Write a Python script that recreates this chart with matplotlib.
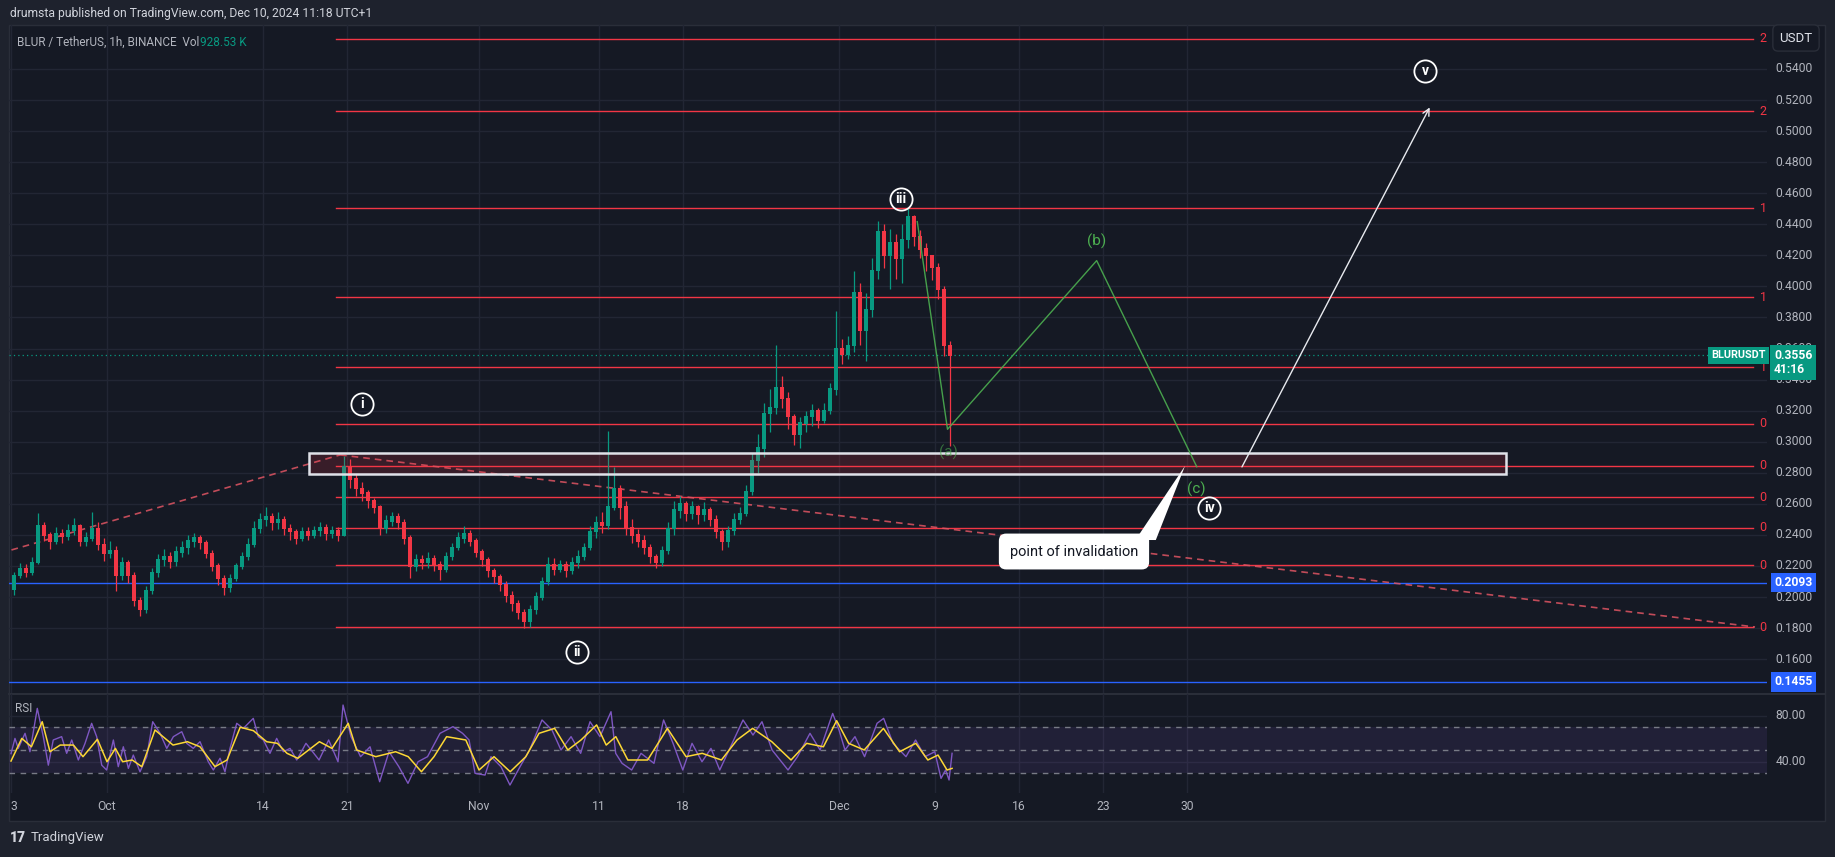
import matplotlib
matplotlib.use('Agg')
import matplotlib.pyplot as plt
import matplotlib.transforms as mtrans
from matplotlib.patches import Rectangle, Polygon
from matplotlib.lines import Line2D

plt.rcParams['font.family'] = ['Roboto', 'DejaVu Sans']

# ---------------- data (days counted from Oct 1, 2024) ----------------
first_open = 0.205
candle_start_day = -8.0          # Sep 23, 12h candles
closes = [0.214, 0.218, 0.216, 0.222, 0.246, 0.240, 0.236, 0.241, 0.239, 0.243,
          0.246, 0.236, 0.238, 0.244, 0.234, 0.228, 0.230, 0.214, 0.222, 0.214,
          0.198, 0.192, 0.204, 0.216, 0.224, 0.226, 0.223, 0.229, 0.232, 0.236,
          0.238, 0.235, 0.228, 0.220, 0.212, 0.206, 0.212, 0.220, 0.226, 0.234,
          0.244, 0.250, 0.252, 0.248, 0.250, 0.244, 0.242, 0.238, 0.242, 0.240,
          0.243, 0.245, 0.241, 0.243, 0.240, 0.284, 0.276, 0.270, 0.267, 0.262,
          0.258, 0.244, 0.249, 0.252, 0.248, 0.238, 0.220, 0.224, 0.222, 0.225,
          0.221, 0.218, 0.226, 0.232, 0.238, 0.241, 0.236, 0.229, 0.224, 0.217,
          0.213, 0.208, 0.201, 0.196, 0.190, 0.184, 0.192, 0.200, 0.210, 0.221,
          0.218, 0.221, 0.217, 0.222, 0.226, 0.232, 0.242, 0.248, 0.246, 0.258,
          0.270, 0.258, 0.245, 0.240, 0.236, 0.232, 0.226, 0.222, 0.230, 0.244,
          0.256, 0.260, 0.254, 0.258, 0.253, 0.256, 0.250, 0.242, 0.236, 0.243,
          0.250, 0.254, 0.268, 0.288, 0.296, 0.318, 0.322, 0.335, 0.328, 0.316,
          0.305, 0.312, 0.316, 0.320, 0.314, 0.320, 0.334, 0.360, 0.356, 0.362,
          0.396, 0.372, 0.385, 0.410, 0.435, 0.420, 0.428, 0.418, 0.430, 0.445,
          0.432, 0.424, 0.420, 0.412, 0.398, 0.362, 0.3556]
highs = [0.216, 0.222, 0.221, 0.226, 0.254, 0.248, 0.242, 0.245, 0.244, 0.247,
         0.251, 0.247, 0.242, 0.255, 0.248, 0.238, 0.236, 0.233, 0.226, 0.224,
         0.216, 0.200, 0.207, 0.219, 0.228, 0.231, 0.229, 0.233, 0.236, 0.240,
         0.241, 0.240, 0.237, 0.230, 0.222, 0.214, 0.215, 0.222, 0.229, 0.238,
         0.249, 0.254, 0.258, 0.254, 0.255, 0.252, 0.247, 0.244, 0.245, 0.245,
         0.246, 0.248, 0.247, 0.246, 0.245, 0.291, 0.289, 0.279, 0.274, 0.269,
         0.264, 0.259, 0.253, 0.255, 0.254, 0.250, 0.240, 0.228, 0.227, 0.229,
         0.227, 0.223, 0.229, 0.235, 0.242, 0.246, 0.243, 0.238, 0.231, 0.226,
         0.219, 0.215, 0.210, 0.204, 0.198, 0.192, 0.195, 0.203, 0.213, 0.226,
         0.225, 0.224, 0.223, 0.226, 0.230, 0.235, 0.246, 0.252, 0.255, 0.307,
         0.284, 0.272, 0.262, 0.250, 0.244, 0.240, 0.234, 0.228, 0.233, 0.248,
         0.262, 0.265, 0.262, 0.262, 0.259, 0.261, 0.258, 0.253, 0.244, 0.246,
         0.254, 0.258, 0.272, 0.293, 0.305, 0.325, 0.334, 0.362, 0.342, 0.332,
         0.318, 0.316, 0.320, 0.324, 0.322, 0.325, 0.338, 0.384, 0.366, 0.368,
         0.410, 0.402, 0.396, 0.418, 0.442, 0.440, 0.437, 0.434, 0.440, 0.4503,
         0.446, 0.436, 0.428, 0.420, 0.415, 0.400, 0.365]
lows = [0.201, 0.212, 0.213, 0.214, 0.221, 0.236, 0.231, 0.234, 0.235, 0.237,
        0.240, 0.233, 0.233, 0.236, 0.230, 0.223, 0.225, 0.204, 0.211, 0.209,
        0.194, 0.188, 0.190, 0.202, 0.213, 0.220, 0.219, 0.220, 0.226, 0.228,
        0.232, 0.231, 0.225, 0.217, 0.208, 0.201, 0.203, 0.210, 0.218, 0.224,
        0.232, 0.241, 0.246, 0.243, 0.244, 0.240, 0.237, 0.234, 0.236, 0.237,
        0.238, 0.239, 0.237, 0.238, 0.236, 0.239, 0.270, 0.265, 0.262, 0.257,
        0.254, 0.240, 0.241, 0.246, 0.244, 0.234, 0.212, 0.217, 0.218, 0.219,
        0.217, 0.211, 0.216, 0.224, 0.230, 0.235, 0.233, 0.226, 0.220, 0.213,
        0.209, 0.204, 0.197, 0.191, 0.186, 0.180, 0.181, 0.189, 0.198, 0.208,
        0.214, 0.216, 0.213, 0.215, 0.219, 0.224, 0.230, 0.238, 0.241, 0.244,
        0.256, 0.250, 0.240, 0.235, 0.232, 0.228, 0.222, 0.219, 0.220, 0.228,
        0.240, 0.251, 0.249, 0.250, 0.247, 0.249, 0.246, 0.238, 0.230, 0.232,
        0.240, 0.247, 0.252, 0.266, 0.280, 0.290, 0.306, 0.318, 0.322, 0.308,
        0.298, 0.296, 0.306, 0.310, 0.309, 0.312, 0.318, 0.330, 0.350, 0.353,
        0.358, 0.362, 0.352, 0.380, 0.405, 0.412, 0.398, 0.405, 0.402, 0.425,
        0.426, 0.418, 0.410, 0.404, 0.392, 0.355, 0.297]

fib_levels = [0.5596, 0.5128, 0.4503, 0.3930, 0.3478, 0.3117, 0.2845, 0.2641, 0.2446, 0.2204, 0.1805]
fib_labels = ['2', '2', '1', '1', '1', '0', '0', '0', '0', '0', '0']
fib_days = [19.1, 137.2]

blue_levels = [0.2093, 0.1455]
last_price = 0.3556
countdown = '41:16'

zone_days = [16.83, 116.6]
zone_prices = [0.2794, 0.2927]

trend_up_days = [-7.96, 19.42]
trend_up_prices = [0.2303, 0.2915]
trend_dn_days = [19.42, 137.33]
trend_dn_prices = [0.2915, 0.1807]

abc_days = [67.52, 70.04, 82.47, 90.81]
abc_prices = [0.4417, 0.308, 0.4166, 0.2839]
abc_labels = ['(a)', '(b)', '(c)']
abc_label_days = [70.1, 82.47, 90.81]
abc_label_prices = [0.2929, 0.4292, 0.2694]

wave_labels = ['i', 'ii', 'iii', 'iv', 'v']
wave_days = [21.22, 39.17, 66.17, 91.86, 109.83]
wave_prices = [0.3245, 0.1646, 0.4563, 0.2575, 0.539]

arrow_days = [94.47, 110.33]
arrow_prices = [0.2822, 0.5168]

callout_text = 'point of invalidation'
callout_day, callout_price = 80.58, 0.2293
pointer_days = [85.7, 87.4, 89.83]
pointer_prices = [0.2367, 0.2367, 0.2844]

price_ticks = [0.16, 0.18, 0.20, 0.22, 0.24, 0.26, 0.28, 0.30, 0.32, 0.34,
               0.36, 0.38, 0.40, 0.42, 0.44, 0.46, 0.48, 0.50, 0.52, 0.54]
date_tick_days = [-8, 0, 13, 20, 31, 41, 48, 61, 69, 76, 83, 90]
date_tick_labels = ['3', 'Oct', '14', '21', 'Nov', '11', '18', 'Dec', '9', '16', '23', '30']

rsi_days = [-8.0, -7.67, -7.39, -6.83, -6.42, -5.81, -5.31, -4.89, -4.48, -3.78,
            -3.36, -2.94, -2.39, -1.83, -1.28, -0.86, -0.44, -0.03, 0.53, 0.94,
            1.36, 1.78, 2.19, 2.75, 3.31, 3.81, 4.42, 4.98, 5.53, 6.23,
            6.64, 7.19, 7.75, 8.44, 8.86, 9.42, 9.83, 10.25, 10.81, 11.36,
            11.78, 12.19, 12.61, 13.03, 13.58, 14.14, 14.69, 15.25, 15.81,
            16.58, 17.67, 18.47, 19.25, 19.67, 20.33, 21.13, 21.92, 22.72, 23.5,
            24.32, 25.08, 25.92, 26.71, 27.75, 28.83, 29.63, 30.17, 30.67, 31.5,
            32.0, 32.83, 33.58, 34.42, 35.21, 36.25, 37.08, 37.83, 38.67, 39.47,
            40.25, 41.08, 42.0, 42.39, 42.92, 43.72, 44.5, 45.58, 46.38, 47.17,
            47.98, 48.75, 49.58, 50.33, 51.06, 51.96, 53.0, 53.83, 54.58, 55.42,
            56.75, 57.54, 58.58, 59.42, 60.47, 61.0, 61.5, 62.33, 63.13, 64.17,
            64.72, 65.5, 66.58, 67.38, 68.17, 68.98, 69.5, 69.88, 70.17, 70.42]
rsi_vals = [47, 60.3, 51.6, 64.7, 48.7, 86.4, 61.8, 37, 58.9, 61.8,
            47.3, 58.9, 41.5, 56, 73.4, 61.8, 37, 32.8, 58.9, 35.7,
            53, 34.2, 45.8, 31.3, 44.4, 74.8, 64.7, 51.6, 61.8, 66.1,
            56, 51.6, 57.4, 40, 32.8, 43, 31.3, 51.6, 73.4, 69,
            73.4, 77.7, 61.8, 58.9, 47.3, 60.3, 48.7, 51.6, 41.5,
            56, 41.5, 58.9, 40, 89.3, 61.8, 44.4, 53, 22.6, 48.7,
            35.7, 21.2, 40, 44.4, 64.7, 70.5, 64.7, 58.9, 29.9, 28.4,
            44.4, 35.7, 19.7, 35.7, 50.2, 76.3, 67.6, 50.2, 61.8, 47.3,
            74.8, 61.8, 83.5, 47.3, 38.6, 32.8, 47.3, 38.6, 76.3, 56,
            32.8, 56, 40, 51.6, 32.8, 53, 76.3, 63.2, 74.8, 50.2,
            32.8, 44.4, 64.7, 50.2, 82, 67.6, 50.2, 61.8, 44.4, 73.4,
            77.7, 56, 44.4, 58.9, 44.4, 48.7, 25.5, 32.8, 24.1, 47.3]
rsi_ma_days = [-8.0, -7.1, -6.3, -5.4, -4.75, -3.9, -2.8, -2.0, -0.8, 0.0,
               0.7, 1.3, 2.1, 2.9, 4.0, 5.5, 6.7, 7.75, 9.0, 10.0,
               11.1, 12.2, 13.3, 14.2, 15.0, 15.9, 17.7, 18.75, 20.1, 20.8,
               22.4, 24.05, 25.1, 26.2, 27.25, 28.3, 29.9, 31.0, 32.25, 33.6,
               34.9, 36.0, 37.3, 38.4, 39.5, 40.8, 41.6, 42.4, 43.4, 45.05,
               46.7, 48.25, 49.6, 51.2, 52.5, 53.8, 55.4, 57.0, 58.3, 59.7,
               60.8, 61.8, 63.1, 64.7, 66.05, 67.4, 68.4, 69.25, 70.0, 70.42]
rsi_ma_vals = [40.6, 60.3, 53, 74.8, 48.7, 54.5, 54.5, 44.4, 59.5, 40,
               51.6, 40, 41.5, 35.7, 67.6, 54.5, 57.4, 53, 35.7, 41.5,
               70, 67, 57.4, 56, 47.3, 43, 57.4, 51.6, 73.4, 50.2,
               44.4, 48.7, 44.4, 31.3, 44.4, 61.8, 58.9, 32.8, 44.4, 31.3,
               44.4, 64.7, 69, 50.2, 58.9, 72, 54.5, 61.8, 41.5, 41.5,
               69, 44.4, 47.3, 41.5, 58.9, 69, 57.4, 41.5, 56, 53,
               75.7, 56, 50.2, 69, 48.7, 56, 41.5, 45.8, 32.8, 34.2]
rsi_levels = [70, 50, 30]
rsi_grid = [80, 40]

# ---------------- style ----------------
W, H = 1835, 857
BG = '#151924'
OUTER = '#1e222d'
GRID = '#222634'
FRAME = '#2a2e39'
TXT = '#b2b5be'
RED = '#f23645'
UP = '#089981'
BLUE = '#2962ff'
GREEN = '#4caf50'

fig = plt.figure(figsize=(W / 100, H / 100), dpi=100, facecolor=OUTER)

# chart panel background (drawn beneath the axes)
fig.patches.append(Rectangle((9 / W, 1 - 821 / H), (1825 - 9) / W, (821 - 25) / H,
                             transform=fig.transFigure, fc=BG, ec=FRAME, lw=1, zorder=-5))
fig.add_artist(Line2D([9 / W, 1825 / W], [1 - 693.5 / H, 1 - 693.5 / H],
                      color=FRAME, lw=1.5, transform=fig.transFigure, zorder=-4))

ax = fig.add_axes([9 / W, 1 - 693 / H, 1758 / W, 668 / H])
axr = fig.add_axes([9 / W, 1 - 793 / H, 1758 / W, 99 / H])
for a in (ax, axr):
    a.set_facecolor('none')
    for s in a.spines.values():
        s.set_visible(False)
    a.set_xticks([])
    a.set_yticks([])
    a.set_xlim(-8.167, 138.33)
ax.set_ylim(0.1382, 0.5683)
axr.set_ylim(12.8, 98.9)

# grid
for d in date_tick_days:
    ax.axvline(d, color=GRID, lw=1, zorder=0.5)
    axr.axvline(d, color=GRID, lw=1, zorder=0.5)
for p in price_ticks:
    ax.axhline(p, color=GRID, lw=1, zorder=0.5)
for r in rsi_grid:
    axr.axhline(r, color=GRID, lw=1, zorder=0.5)

# horizontal levels
for lv, lab in zip(fib_levels, fib_labels):
    ax.plot(fib_days, [lv, lv], color=RED, lw=1, zorder=2)
    ax.text(138.0, lv, lab, color=RED, fontsize=9, ha='center', va='center', zorder=2)
for lv in blue_levels:
    ax.axhline(lv, color=BLUE, lw=1, zorder=2)
ax.axhline(last_price, color=UP, lw=0.9, ls=(0, (1, 2.5)), zorder=2)

# trend lines
ax.plot(trend_up_days, trend_up_prices, color='#e05563', lw=1.2, ls=(0, (4, 3)), alpha=0.85, zorder=2)
ax.plot(trend_dn_days, trend_dn_prices, color='#e05563', lw=1.2, ls=(0, (4, 3)), alpha=0.85, zorder=2)

# candles
opens = [first_open] + closes[:-1]
xs = [candle_start_day + 0.5 * i + 0.25 for i in range(len(closes))]
cols = [UP if c >= o else RED for o, c in zip(opens, closes)]
ax.vlines(xs, lows, highs, colors=cols, lw=0.9, zorder=3)
ax.bar(xs, [abs(c - o) + 0.0008 for o, c in zip(opens, closes)], width=0.34,
       bottom=[min(o, c) - 0.0004 for o, c in zip(opens, closes)], color=cols, zorder=3, lw=0)

# zone
ax.add_patch(Rectangle((zone_days[0], zone_prices[0]), zone_days[1] - zone_days[0],
                       zone_prices[1] - zone_prices[0], fc=(0.949, 0.212, 0.271, 0.16),
                       ec='#dfe1e8', lw=1.8, zorder=4))

# abc path
ax.plot(abc_days, abc_prices, color=GREEN, lw=1, alpha=0.9, zorder=5)
for lab, d, p, al in zip(abc_labels, abc_label_days, abc_label_prices, [0.6, 1, 1]):
    ax.text(d, p, lab, color=GREEN, fontsize=11, ha='center', va='center', alpha=al, zorder=6)

# arrow
ax.annotate('', xy=(arrow_days[1], arrow_prices[1]), xytext=(arrow_days[0], arrow_prices[0]),
            arrowprops=dict(arrowstyle='->', color='#e8eaef', lw=1, mutation_scale=12), zorder=5)

# wave circles
for lab, d, p in zip(wave_labels, wave_days, wave_prices):
    ax.plot(d, p, 'o', ms=16, mfc='none', mec='white', mew=1.3, zorder=6)
    ax.text(d, p, lab, color='white', fontsize=10, fontweight='bold', ha='center', va='center', zorder=6)

# callout
ax.add_patch(Polygon(list(zip(pointer_days, pointer_prices)), closed=True, fc='white', ec='none', zorder=7))
ax.text(callout_day, callout_price, callout_text, color='#131722', fontsize=10.5, ha='center', va='center',
        zorder=7, bbox=dict(boxstyle='round,pad=0.75,rounding_size=0.5', fc='white', ec='none'))

# price axis labels
tr = mtrans.blended_transform_factory(ax.transAxes, ax.transData)
for p in price_ticks:
    ax.text(1.0050, p, f'{p:.4f}', transform=tr, color=TXT, fontsize=8.7, ha='left', va='center',
            clip_on=False, zorder=8)
for lv in blue_levels:
    ax.text(1.0040, lv, f'{lv:.4f}', transform=tr, color='white', fontsize=8.7, fontweight='bold',
            ha='left', va='center', clip_on=False, zorder=10,
            bbox=dict(boxstyle='square,pad=0.28', fc=BLUE, ec='none'))
tr_off = mtrans.offset_copy(tr, fig=fig, y=-7, units='dots')
ax.text(1.0040, last_price, f'{last_price:.4f}\n{countdown}', transform=tr_off, color='white',
        fontsize=8.7, fontweight='bold', ha='left', va='center', linespacing=1.15, clip_on=False, zorder=10,
        bbox=dict(boxstyle='square,pad=0.3', fc=UP, ec='none'))
ax.text(0.9995, last_price, 'BLURUSDT', transform=tr, color='white', fontsize=7.8, fontweight='bold',
        ha='right', va='center', clip_on=False, zorder=10,
        bbox=dict(boxstyle='square,pad=0.3', fc=UP, ec='none'))

# RSI pane
axr.axhspan(rsi_levels[2], rsi_levels[0], color='#7e57c2', alpha=0.12, lw=0, zorder=1)
for lv in rsi_levels:
    axr.axhline(lv, color='#787b86', lw=1, ls=(0, (4, 4)), zorder=2)
axr.plot(rsi_days, rsi_vals, color='#7e57c2', lw=1, zorder=3)
axr.plot(rsi_ma_days, rsi_ma_vals, color='#fdd835', lw=1.1, zorder=4)
trr = mtrans.blended_transform_factory(axr.transAxes, axr.transData)
for r in rsi_grid:
    axr.text(1.0050, r, f'{r:.2f}', transform=trr, color=TXT, fontsize=8.7, ha='left', va='center',
             clip_on=False)
trd = mtrans.blended_transform_factory(axr.transData, axr.transAxes)
for d, lab in zip(date_tick_days, date_tick_labels):
    axr.text(d + (0.25 if lab == '3' else 0), -0.14, lab, transform=trd, color=TXT, fontsize=8.7,
             ha='center', va='center', clip_on=False)

# header texts
fig.text(10 / W, 1 - 13 / H, 'drumsta published on TradingView.com, Dec 10, 2024 11:18 UTC+1',
         color='#d1d4dc', fontsize=8.7, ha='left', va='center')
t1 = fig.text(17 / W, 1 - 42 / H, 'BLUR / TetherUS, 1h, BINANCE  Vol', color=TXT, fontsize=8.5,
              ha='left', va='center')
fig.canvas.draw()
bb = t1.get_window_extent()
fig.text(bb.x1 / W + 1 / W, 1 - 42 / H, '928.53 K', color=UP, fontsize=8.5, ha='left', va='center')
fig.text(1796 / W, 1 - 38 / H, 'USDT', color='#e0e3eb', fontsize=9.5, ha='center', va='center',
         bbox=dict(boxstyle='round,pad=0.5,rounding_size=0.4', fc=BG, ec=FRAME))
fig.text(15 / W, 1 - 708 / H, 'RSI', color=TXT, fontsize=8.5, ha='left', va='center')

# footer
fig.text(10 / W, 1 - 838 / H, '17', color='#d1d4dc', fontsize=10, fontweight='black', ha='left', va='center')
fig.text(31 / W, 1 - 838 / H, 'TradingView', color='#d1d4dc', fontsize=9.5, ha='left', va='center')

fig.savefig('out.png', dpi=100, facecolor=OUTER)
